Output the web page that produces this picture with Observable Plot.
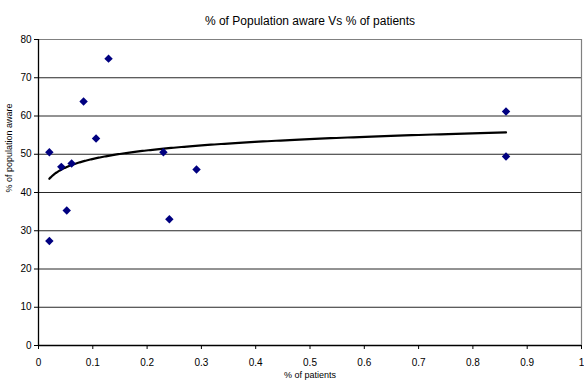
<!DOCTYPE html>
<html>
<head>
<meta charset="utf-8">
<script src="https://cdn.jsdelivr.net/npm/d3@7"></script>
<script src="https://cdn.jsdelivr.net/npm/@observablehq/plot@0.6"></script>
<style>
  html, body { margin: 0; padding: 0; background: #fff; }
  #chart svg { display: block; }
</style>
</head>
<body>
<div id="chart"></div>
<script>
const title = "% of Population aware Vs % of patients";
const xLabel = "% of patients";
const yLabel = "% of population aware";
const patients = [0.02, 0.02, 0.042, 0.052, 0.061, 0.083, 0.106, 0.129, 0.230, 0.241, 0.291, 0.861, 0.861];
const aware    = [50.5, 27.3, 46.7, 35.3, 47.6, 63.8, 54.1, 75.0, 50.5, 33.0, 46.0, 61.2, 49.4];
const xTicks = [0, 0.1, 0.2, 0.3, 0.4, 0.5, 0.6, 0.7, 0.8, 0.9, 1];
const yTicks = [0, 10, 20, 30, 40, 50, 60, 70, 80];

const points = patients.map((x, i) => ({x, y: aware[i]}));

// Logarithmic trendline (least squares on ln x), as in the spreadsheet
const lx = patients.map(Math.log);
const mx = d3.mean(lx), my = d3.mean(aware);
let sxy = 0, sxx = 0;
lx.forEach((v, i) => { sxy += (v - mx) * (aware[i] - my); sxx += (v - mx) * (v - mx); });
const a = sxy / sxx, b = my - a * mx;
const [x0, x1] = d3.extent(patients);
const trend = d3.range(0, 201).map(i => {
  const x = x0 * Math.pow(x1 / x0, i / 200);
  return {x, y: a * Math.log(x) + b};
});

const chart = Plot.plot({
  width: 584,
  height: 383,
  marginTop: 39,
  marginLeft: 38,
  marginRight: 3,
  marginBottom: 38,
  style: {fontFamily: "'Liberation Sans', Arial, sans-serif", fontSize: "10px", color: "#000", background: "#fff"},
  x: {domain: [0, 1]},
  y: {domain: [0, 80]},
  marks: [
    Plot.ruleY(yTicks.filter(v => v > 0 && v < 80), {stroke: "#000", strokeWidth: 1, strokeOpacity: 0.85}),
    Plot.ruleY([80], {stroke: "#808080", strokeWidth: 1.2}),
    Plot.ruleX([1], {stroke: "#808080", strokeWidth: 1.2}),
    Plot.ruleX([0], {stroke: "#000", strokeWidth: 1.3}),
    Plot.ruleY([0], {stroke: "#000", strokeWidth: 1.3}),
    Plot.axisX({ticks: xTicks, tickSize: 4, tickPadding: 9, tickFormat: d => String(d), label: null, fontSize: 10}),
    Plot.axisY({ticks: yTicks, tickSize: 4, tickPadding: 3, label: null, fontSize: 10}),
    Plot.line(trend, {x: "x", y: "y", stroke: "#000", strokeWidth: 2.2}),
    Plot.dot(points, {x: "x", y: "y", symbol: "diamond2", r: 3.8, fill: "#000080", stroke: "none"}),
    Plot.text([title], {frameAnchor: "top", dy: -23, fontSize: 12, text: d => d}),
    Plot.text([xLabel], {frameAnchor: "bottom", dy: 32, fontSize: 9, text: d => d}),
    Plot.text([yLabel], {frameAnchor: "left", dx: -29, rotate: -90, fontSize: 9, text: d => d})
  ]
});
document.getElementById("chart").appendChild(chart);
</script>
</body>
</html>
